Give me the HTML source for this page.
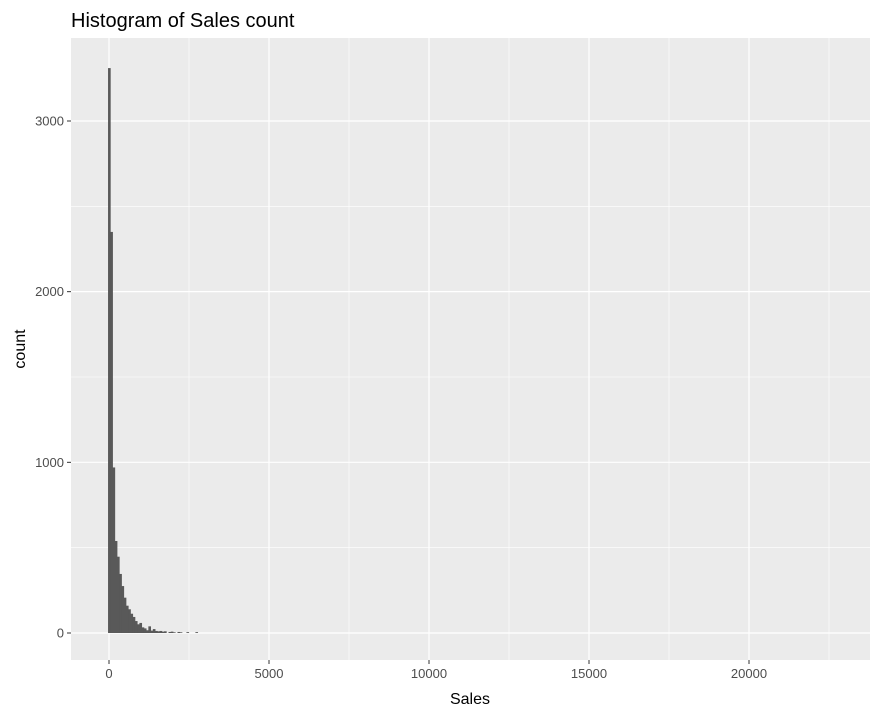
<!DOCTYPE html>
<html><head><meta charset="utf-8"><style>
body{margin:0;background:#fff;font-family:"Liberation Sans",sans-serif}
</style></head><body>
<svg id="c" width="880" height="717" xmlns="http://www.w3.org/2000/svg" style="font-family:'Liberation Sans',sans-serif"></svg>
<script>
const binStart = -30;
const binWidth = 70;
const counts = [3310,2350,970,539,447,346,275,207,160,139,113,94,70,51,59,33,27,16,39,14,23,12,10,12,8,10,0,6,8,4,0,6,4,0,0,5,0,0,0,5];
const xTicks = [0,5000,10000,15000,20000];
const xMinor = [2500,7500,12500,17500,22500];
const yTicks = [0,1000,2000,3000];
const yMinor = [500,1500,2500];
const NS='http://www.w3.org/2000/svg';
const svg=document.getElementById('c');
const X=v=>109+v*0.032;
const Y=v=>633-v*0.17067;
function mk(t,a){const e=document.createElementNS(NS,t);for(const k in a)e.setAttribute(k,a[k]);svg.appendChild(e);return e;}
const panel=mk('rect',{x:71,y:38,width:799,height:622,fill:'#ebebeb'});


xMinor.forEach(v=>{const l=mk('line',{x1:X(v),x2:X(v),y1:38,y2:660,stroke:'#fff','stroke-width':0.6});});
yMinor.forEach(v=>{const l=mk('line',{x1:71,x2:870,y1:Y(v),y2:Y(v),stroke:'#fff','stroke-width':0.6});});
xTicks.forEach(v=>{const l=mk('line',{x1:X(v),x2:X(v),y1:38,y2:660,stroke:'#fff','stroke-width':1.2});
const tk=mk('line',{x1:X(v),x2:X(v),y1:660,y2:664,stroke:'#333','stroke-width':1});
const t=mk('text',{x:X(v),y:678,'text-anchor':'middle','font-size':13,fill:'#4d4d4d'});t.textContent=v;});
yTicks.forEach(v=>{const l=mk('line',{x1:71,x2:870,y1:Y(v),y2:Y(v),stroke:'#fff','stroke-width':1.2});
const tk=mk('line',{x1:67,x2:71,y1:Y(v),y2:Y(v),stroke:'#333','stroke-width':1});
const t=mk('text',{x:64,y:Y(v)+4.5,'text-anchor':'end','font-size':13,fill:'#4d4d4d'});t.textContent=v;});
counts.forEach((c,i)=>{if(!c)return;const x0=X(binStart+i*binWidth),x1=X(binStart+(i+1)*binWidth);
const r=mk('rect',{x:x0,y:Y(c),width:x1-x0+0.4,height:Y(0)-Y(c),fill:'#595959'});});
const ti=mk('text',{x:71,y:27,'font-size':20,fill:'#000'});ti.textContent='Histogram of Sales count';
const xl=mk('text',{x:470,y:704,'text-anchor':'middle','font-size':16,fill:'#000'});xl.textContent='Sales';
const yl=mk('text',{x:0,y:0,'text-anchor':'middle','font-size':16,fill:'#000',transform:'translate(25,349) rotate(-90)'});yl.textContent='count';
</script>
</body></html>
